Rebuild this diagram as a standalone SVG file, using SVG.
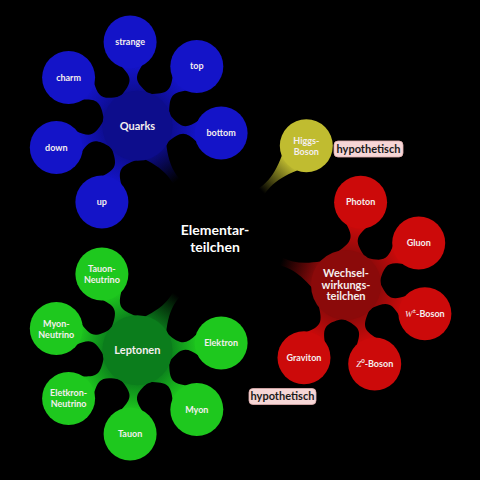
<svg xmlns="http://www.w3.org/2000/svg" xmlns:xlink="http://www.w3.org/1999/xlink" width="480" height="480" viewBox="0 0 480 480">
<style>
  text { font-family: Lato, "Open Sans", "DejaVu Sans", sans-serif; font-weight: bold; text-anchor: middle; fill: #f4eeee; }
  .leaf { font-size: 9px; }
  .mid { font-size: 11px; }
  .root { font-size: 14px; fill: #ffffff; }
  .tag { font-size: 11px; fill: #1a1a1a; }
  .tagbox { fill: #f6d6d6; stroke: #e2b0b0; stroke-width: 0.8; }
  .q1 { fill: #0d0d8c; } .q2 { fill: #1414c8; }
  .l1 { fill: #0b7d1c; } .l2 { fill: #1ec81e; }
  .w1 { fill: #8b0a0a; } .w2 { fill: #cc0a0a; }
  .h2 { fill: #c0bc30; }
  .math { font-family: "Liberation Serif", serif; font-style: italic; font-weight: normal; }
</style>
<defs>
  <linearGradient id="tQ"><stop offset="0" stop-color="#000"/><stop offset="0.4" stop-color="#000"/><stop offset="1" stop-color="#0d0d8c"/></linearGradient>
  <linearGradient id="tL"><stop offset="0" stop-color="#000"/><stop offset="0.4" stop-color="#000"/><stop offset="1" stop-color="#0b7d1c"/></linearGradient>
  <linearGradient id="tW"><stop offset="0" stop-color="#000"/><stop offset="0.4" stop-color="#000"/><stop offset="1" stop-color="#8b0a0a"/></linearGradient>
  <linearGradient id="tH"><stop offset="0" stop-color="#000"/><stop offset="0.35" stop-color="#000"/><stop offset="1" stop-color="#c0bc30"/></linearGradient>
  <linearGradient id="bQ"><stop offset="0" stop-color="#0d0d8c"/><stop offset="1" stop-color="#1414c8"/></linearGradient>
  <linearGradient id="bL"><stop offset="0" stop-color="#0b7d1c"/><stop offset="1" stop-color="#1ec81e"/></linearGradient>
  <linearGradient id="bW"><stop offset="0" stop-color="#8b0a0a"/><stop offset="1" stop-color="#cc0a0a"/></linearGradient>
  <path id="bar" d="M31,14 C44,1 48.5,1 60.5,10.6 L60.5,-10.6 C48.5,-1 44,-1 31,-14 Z"/>
  <path id="tail" d="M44,13 C67,0.5 83,0.5 107,14 L107,-14 C83,-0.5 67,-0.5 44,-13 Z"/>
  <path id="tailH" d="M44,11 C67,0.5 82,0.5 105,10.6 L105,-10.6 C82,-0.5 67,-0.5 44,-11 Z"/>
</defs>
<rect width="480" height="480" fill="#000"/>

<g id="connectors">
  <use xlink:href="#tail" fill="url(#tQ)" transform="translate(216,238) rotate(-125)"/>
  <use xlink:href="#tail" fill="url(#tL)" transform="translate(216,238) rotate(125)"/>
  <use xlink:href="#tail" fill="url(#tW)" transform="translate(216,238) rotate(19.87)"/>
  <use xlink:href="#tailH" fill="url(#tH)" transform="translate(216,238) rotate(-45.6)"/>
  <g fill="url(#bQ)">
    <use xlink:href="#bar" transform="translate(137.4,125.8) rotate(-95)"/>
    <use xlink:href="#bar" transform="translate(137.4,125.8) rotate(-45)"/>
    <use xlink:href="#bar" transform="translate(137.4,125.8) rotate(5)"/>
    <use xlink:href="#bar" transform="translate(137.4,125.8) rotate(115)"/>
    <use xlink:href="#bar" transform="translate(137.4,125.8) rotate(165)"/>
    <use xlink:href="#bar" transform="translate(137.4,125.8) rotate(215)"/>
  </g>
  <g fill="url(#bL)">
    <use xlink:href="#bar" transform="translate(137.4,350.2) rotate(-5)"/>
    <use xlink:href="#bar" transform="translate(137.4,350.2) rotate(45)"/>
    <use xlink:href="#bar" transform="translate(137.4,350.2) rotate(95)"/>
    <use xlink:href="#bar" transform="translate(137.4,350.2) rotate(145)"/>
    <use xlink:href="#bar" transform="translate(137.4,350.2) rotate(195)"/>
    <use xlink:href="#bar" transform="translate(137.4,350.2) rotate(245)"/>
  </g>
  <g fill="url(#bW)">
    <use xlink:href="#bar" transform="translate(346,285) rotate(-80)"/>
    <use xlink:href="#bar" transform="translate(346,285) rotate(-30)"/>
    <use xlink:href="#bar" transform="translate(346,285) rotate(20)"/>
    <use xlink:href="#bar" transform="translate(346,285) rotate(70)"/>
    <use xlink:href="#bar" transform="translate(346,285) rotate(120)"/>
  </g>
</g>

<g id="root">
  <circle cx="216" cy="238" r="46" fill="#000"/>
  <text class="root" x="215" y="235">Elementar-</text>
  <text class="root" x="215" y="251.5">teilchen</text>
</g>

<g id="quarks"><circle class="q1" cx="137.4" cy="125.8" r="35"/><text class="mid" x="137.4" y="129.8">Quarks</text></g>
<g id="strange"><circle class="q2" cx="130.1" cy="42.1" r="26.5"/><text class="leaf" x="130.1" y="45.1">strange</text></g>
<g id="top"><circle class="q2" cx="196.8" cy="66.4" r="26.5"/><text class="leaf" x="196.8" y="69.4">top</text></g>
<g id="bottom"><circle class="q2" cx="221.1" cy="133.1" r="26.5"/><text class="leaf" x="221.1" y="136.1">bottom</text></g>
<g id="up"><circle class="q2" cx="101.9" cy="201.9" r="26.5"/><text class="leaf" x="101.9" y="204.9">up</text></g>
<g id="down"><circle class="q2" cx="56.3" cy="147.5" r="26.5"/><text class="leaf" x="56.3" y="150.5">down</text></g>
<g id="charm"><circle class="q2" cx="68.6" cy="77.6" r="26.5"/><text class="leaf" x="68.6" y="80.6">charm</text></g>

<g id="leptonen"><circle class="l1" cx="137.4" cy="350.2" r="35"/><text class="mid" x="137.4" y="354.2">Leptonen</text></g>
<g id="elektron"><circle class="l2" cx="221.1" cy="342.9" r="26.5"/><text class="leaf" x="221.1" y="345.9">Elektron</text></g>
<g id="myon"><circle class="l2" cx="196.8" cy="409.6" r="26.5"/><text class="leaf" x="196.8" y="412.6">Myon</text></g>
<g id="tauon"><circle class="l2" cx="130.1" cy="433.9" r="26.5"/><text class="leaf" x="130.1" y="436.9">Tauon</text></g>
<g id="elektron-neutrino"><circle class="l2" cx="68.6" cy="398.4" r="26.5"/><text class="leaf" x="68.6" y="396.4">Eletkron-</text><text class="leaf" x="68.6" y="407.4">Neutrino</text></g>
<g id="myon-neutrino"><circle class="l2" cx="56.3" cy="328.5" r="26.5"/><text class="leaf" x="56.3" y="326.5">Myon-</text><text class="leaf" x="56.3" y="337.5">Neutrino</text></g>
<g id="tauon-neutrino"><circle class="l2" cx="101.9" cy="274.1" r="26.5"/><text class="leaf" x="101.9" y="272.1">Tauon-</text><text class="leaf" x="101.9" y="283.1">Neutrino</text></g>

<g id="wechselwirkungsteilchen"><circle class="w1" cx="346" cy="285" r="35"/>
  <text class="mid" x="346" y="277">Wechsel-</text><text class="mid" x="346" y="288.5">wirkungs-</text><text class="mid" x="346" y="300">teilchen</text></g>
<g id="photon"><circle class="w2" cx="360.6" cy="202.3" r="26.5"/><text class="leaf" x="360.6" y="205.3">Photon</text></g>
<g id="gluon"><circle class="w2" cx="418.7" cy="243" r="26.5"/><text class="leaf" x="418.7" y="246">Gluon</text></g>
<g id="w-boson"><circle class="w2" cx="424.9" cy="313.7" r="26.5"/><text class="leaf" x="424.9" y="316.7"><tspan class="math">W</tspan><tspan font-size="6" dy="-3.5">±</tspan><tspan dy="3.5">-Boson</tspan></text></g>
<g id="z-boson"><circle class="w2" cx="374.7" cy="363.9" r="26.5"/><text class="leaf" x="374.7" y="366.9"><tspan class="math">Z</tspan><tspan font-size="6" dy="-3.5">0</tspan><tspan dy="3.5">-Boson</tspan></text></g>
<g id="graviton"><circle class="w2" cx="304" cy="357.7" r="26.5"/><text class="leaf" x="304" y="360.7">Graviton</text></g>

<g id="higgs-boson"><circle class="h2" cx="306.3" cy="145.8" r="26.5"/><text class="leaf" x="306.3" y="143.8">Higgs-</text><text class="leaf" x="306.3" y="154.8">Boson</text></g>

<g id="tag-higgs"><rect class="tagbox" x="334" y="141" width="69" height="16" rx="4"/><text class="tag" x="368.5" y="152.8">hypothetisch</text></g>
<g id="tag-graviton"><rect class="tagbox" x="249" y="388.5" width="67" height="16" rx="4"/><text class="tag" x="282.5" y="400.3">hypothetisch</text></g>
</svg>
